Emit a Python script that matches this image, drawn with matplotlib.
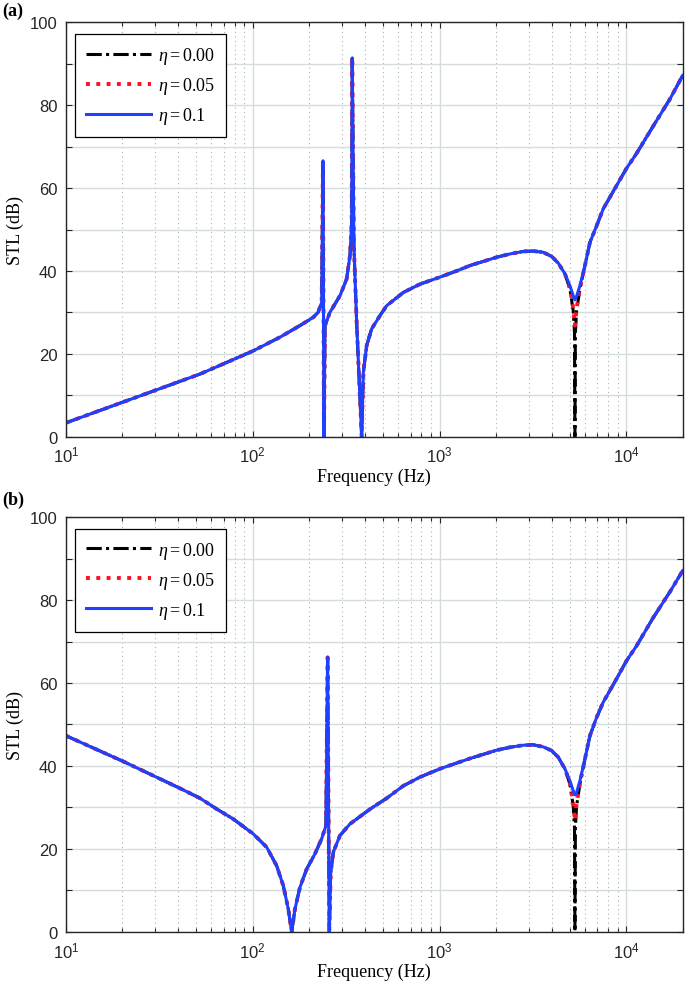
import numpy as np
import matplotlib
matplotlib.use("Agg")
import matplotlib.pyplot as plt
from matplotlib.ticker import LogLocator, MultipleLocator, NullFormatter

# ---- data (frequency in Hz, STL in dB) ----
# panel (a), eta = 0.1
freq_a = [10, 52.3, 72.6, 100.7, 140, 179, 211, 224, 234, 237.7, 240.7, 243.8, 259, 293,
          318, 331.6, 338.7, 341, 348, 360, 383, 391, 407, 433, 480, 521, 640, 785,
          1004, 1235, 1455, 1715, 2021, 2381, 2805, 3170, 3589, 3980, 4317, 4688,
          4986, 5192, 5302, 5413, 5637, 5998, 6379, 6927, 7516, 8500, 10020, 11340,
          13920, 17090, 20000]
stl_a = [3.3, 15.1, 17.9, 20.7, 24.0, 26.8, 28.8, 30.0, 32.4, 66.6, 0.0, 26.8, 30.0, 34.0,
         38.0, 43.7, 51.7, 91.4, 46.1, 27.6, 0.0, 15.5, 21.9, 26.0, 29.2, 31.6, 34.8, 36.8,
         38.5, 40.0, 41.3, 42.3, 43.3, 44.1, 44.7, 44.8, 44.5, 43.5, 41.9, 39.3,
         36.4, 34.0, 33.0, 33.9, 36.4, 41.3, 46.9, 50.9, 55.0, 59.2, 64.8, 68.4,
         75.0, 81.5, 87.2]

# panel (b), eta = 0.1
freq_b = [10, 20.5, 41.7, 52.3, 64.2, 78.7, 100.7, 118.8, 134.4, 145.8, 155, 161.7, 168.4,
          179, 194.4, 215.4, 233.8, 246.6, 251.8, 257, 261.5, 270, 293, 331.6, 425, 521,
          640, 785, 1004, 1235, 1455, 1715, 2021, 2381, 2805, 3170, 3589, 3980, 4317,
          4688, 4986, 5192, 5302, 5413, 5637, 5998, 6379, 6927, 7516, 8500, 10020,
          11340, 13920, 17090, 20000]
stl_b = [47.3, 41.0, 34.4, 32.2, 29.6, 27.2, 23.6, 20.4, 15.9, 11.1, 5.5, 0.0, 5.5,
         10.7, 15.1, 18.8, 22.4, 25.6, 66.2, 0.0, 14.3, 19.2, 23.2, 26.0, 29.6, 32.2,
         35.2, 37.3, 39.3, 40.7, 41.8, 42.8, 43.8, 44.5, 45.0, 45.1, 44.6, 43.7, 42.1,
         39.3, 36.4, 34.0, 33.0, 33.6, 36.4, 41.7, 47.3, 51.7, 55.4, 59.6, 65.4,
         69.0, 75.8, 82.0, 87.1]

# the lower damping cases only differ from eta = 0.1 around the coincidence dip
dip_freq_005 = [4986, 5192, 5302, 5413, 5637]
dip_stl_005 = [35.8, 31.0, 26.8, 31.0, 35.8]
dip_freq_000 = [4986, 5192, 5275, 5302, 5330, 5413, 5637]
dip_stl_000 = [35.6, 30.4, 25.0, 0.0, 25.0, 30.4, 35.6]

labels = [r"$\eta = 0.00$", r"$\eta = 0.05$", r"$\eta = 0.1$"]
panel_names = ["(a)", "(b)"]

plt.rcParams["font.family"] = ["Liberation Sans", "DejaVu Sans"]
plt.rcParams["mathtext.fontset"] = "custom"
plt.rcParams["mathtext.rm"] = "Liberation Serif"
plt.rcParams["mathtext.it"] = "Liberation Serif:italic"

grid_col = "#d5dcdc"
minor_col = "#a9b3b3"
axis_col = "#262626"


def swap_dip(freq, stl, dip_f, dip_s):
    f = np.asarray(freq, float)
    s = np.asarray(stl, float)
    keep = (f < dip_f[0]) | (f > dip_f[-1])
    ff = np.concatenate([f[keep], dip_f])
    ss = np.concatenate([s[keep], dip_s])
    order = np.argsort(ff)
    return ff[order], ss[order]


def draw_panel(ax, freq, stl):
    f0, s0 = swap_dip(freq, stl, dip_freq_000, dip_stl_000)
    f5, s5 = swap_dip(freq, stl, dip_freq_005, dip_stl_005)
    ax.plot(f0, s0, color="black", lw=2.2, dashes=(5, 1.4, 1, 1.4), label=labels[0])
    ax.plot(f5, s5, color="#ff1020", lw=2.8, ls=":", label=labels[1])
    ax.plot(freq, stl, color="#2040ff", lw=2.2, label=labels[2])

    ax.set_xscale("log")
    ax.set_xlim(10, 20000)
    ax.set_ylim(0, 100)
    ax.xaxis.set_major_locator(LogLocator(base=10, numticks=10))
    ax.xaxis.set_minor_locator(LogLocator(base=10, subs=np.arange(2, 10), numticks=20))
    ax.xaxis.set_minor_formatter(NullFormatter())
    ax.yaxis.set_major_locator(MultipleLocator(20))
    ax.yaxis.set_minor_locator(MultipleLocator(10))

    ax.grid(which="major", axis="both", color=grid_col, lw=1.0, ls="-")
    ax.yaxis.grid(which="minor", color=grid_col, lw=1.0, ls="-")
    ax.xaxis.grid(which="minor", color=minor_col, lw=0.8, ls=(0, (1, 3)))
    ax.set_axisbelow(True)

    ax.tick_params(which="both", direction="in", top=True, right=True,
                   colors=axis_col, labelsize=12, width=0.8)
    ax.tick_params(which="major", length=4.5, pad=6)
    ax.tick_params(which="minor", length=3)
    ax.tick_params(axis="y", which="minor", length=4.5)
    for sp in ax.spines.values():
        sp.set_color(axis_col)
        sp.set_linewidth(1.0)

    ax.set_xlabel("Frequency (Hz)", fontfamily="Liberation Serif", fontsize=13, labelpad=2)
    ax.set_ylabel("STL (dB)", fontfamily="Liberation Serif", fontsize=13, labelpad=4)

    leg = ax.legend(loc="upper left", bbox_to_anchor=(0.015, 0.972), borderaxespad=0,
                    fancybox=False, framealpha=1, edgecolor="black", fontsize=13,
                    handlelength=3.6, handletextpad=0.4, labelspacing=0.5, borderpad=0.6)
    leg.get_frame().set_linewidth(0.9)


fig = plt.figure(figsize=(6.85, 9.87), dpi=100)
ax_a = fig.add_axes([0.0961, 0.5567, 0.9005, 0.4195])
ax_b = fig.add_axes([0.0961, 0.0550, 0.9005, 0.4199])

draw_panel(ax_a, freq_a, stl_a)
draw_panel(ax_b, freq_b, stl_b)

fig.text(0.004, 0.997, panel_names[0], ha="left", va="top", fontsize=13,
         fontweight="bold", fontfamily="Liberation Serif")
fig.text(0.004, 0.502, panel_names[1], ha="left", va="top", fontsize=13,
         fontweight="bold", fontfamily="Liberation Serif")

fig.savefig("out.png", dpi=100)
